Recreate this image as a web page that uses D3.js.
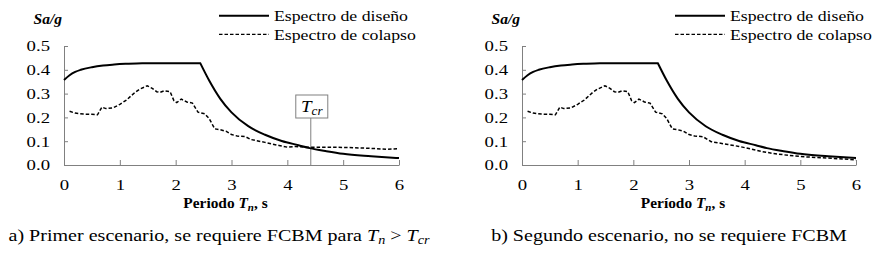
<!DOCTYPE html>
<html>
<head>
<meta charset="utf-8">
<script src="https://cdn.jsdelivr.net/npm/d3@7"></script>
<style>
  body { margin: 0; background: #fff; }
  text { font-family: "Liberation Serif", "Times New Roman", serif; fill: #000; }
</style>
</head>
<body>
<div id="graph"></div>
<script>
// design spectrum, same in both panels
var riseT  = [0, 0.1, 0.2, 0.3, 0.5, 0.7, 0.9, 1.1, 1.4, 2.44]
var riseSa = [0.357, 0.377, 0.391, 0.400, 0.411, 0.418, 0.422, 0.425, 0.428, 0.428]
var decayT  = [2.44, 2.6, 2.8, 3.0, 3.3, 3.6, 3.9, 4.2, 4.4, 4.7, 5.0, 5.5, 6.0]
var decaySa = [0.428, 0.355, 0.278, 0.221, 0.163, 0.127, 0.101, 0.083, 0.071, 0.058, 0.047, 0.037, 0.029]

// collapse spectrum, panel a
var colAT  = [0.1, 0.2, 0.35, 0.5, 0.6, 0.68, 0.75, 0.88, 1.0, 1.12, 1.27, 1.35, 1.49, 1.58, 1.66, 1.72, 1.8, 1.9, 1.97, 2.02, 2.1, 2.2, 2.3, 2.4, 2.52, 2.6, 2.7, 2.8, 2.9, 3.0, 3.1, 3.25, 3.35, 3.6, 3.85, 4.0, 4.15, 4.3, 4.6, 5.0, 5.4, 5.8, 6.0]
var colASa = [0.226, 0.218, 0.214, 0.213, 0.211, 0.243, 0.237, 0.240, 0.255, 0.273, 0.305, 0.318, 0.333, 0.322, 0.308, 0.305, 0.312, 0.308, 0.270, 0.262, 0.277, 0.265, 0.260, 0.222, 0.215, 0.195, 0.152, 0.148, 0.142, 0.128, 0.122, 0.119, 0.107, 0.095, 0.082, 0.075, 0.078, 0.075, 0.075, 0.074, 0.071, 0.066, 0.069]

// collapse spectrum, panel b
var colBT  = [0.1, 0.2, 0.35, 0.5, 0.6, 0.68, 0.75, 0.88, 1.0, 1.12, 1.27, 1.35, 1.49, 1.58, 1.66, 1.72, 1.8, 1.9, 1.97, 2.02, 2.1, 2.2, 2.3, 2.4, 2.52, 2.6, 2.7, 2.8, 2.9, 3.0, 3.1, 3.25, 3.4, 3.7, 3.9, 4.1, 4.3, 4.5, 4.8, 5.1, 5.5, 6.0]
var colBSa = [0.226, 0.218, 0.214, 0.213, 0.211, 0.243, 0.237, 0.240, 0.255, 0.273, 0.305, 0.318, 0.333, 0.322, 0.308, 0.305, 0.312, 0.308, 0.270, 0.262, 0.277, 0.265, 0.260, 0.222, 0.215, 0.195, 0.152, 0.148, 0.142, 0.128, 0.122, 0.119, 0.098, 0.086, 0.078, 0.068, 0.057, 0.049, 0.040, 0.034, 0.029, 0.022]

var xTicks = [0, 1, 2, 3, 4, 5, 6]
var yTicks = [0, 0.1, 0.2, 0.3, 0.4, 0.5]
var legendNames = ['Espectro de diseño', 'Espectro de colapso']
var Tcr = 4.42

var panels = [
  {x0: 64, x1: 399, title: 'Periodo ', colT: colAT, colSa: colASa, tcr: true,
   cap: ['a) Primer escenario, se requiere FCBM para ', true], capX: 219, legX: 219},
  {x0: 522, x1: 856, title: 'Período ', colT: colBT, colSa: colBSa, tcr: false,
   cap: ['b) Segundo escenario, no se requiere FCBM', false], capX: 669, legX: 675}
]

var width = 879, height = 262
var gray = '#808080'

var svg = d3.select('#graph').append('svg')
  .attr('width', width).attr('height', height)

var y = d3.scaleLinear().domain([0, 0.5]).range([165, 46])

// the source figure's text is stretched horizontally, hence the scale
function label(g, x, yy, size, sx, anchor){
  return g.append('text')
    .attr('transform', `translate(${x},${yy}) scale(${sx},1)`)
    .attr('text-anchor', anchor || 'start')
    .style('font-size', size + 'px')
}

function sub(t, s, size, italic, bold){
  var ts = t.append('tspan').text(s).attr('dy', 3).style('font-size', size + 'px')
  if (italic) ts.style('font-style', 'italic')
  if (bold) ts.style('font-weight', 'bold')
  return ts
}

var tickSx = 1.25

panels.forEach(p => {
  var x = d3.scaleLinear().domain([0, 6]).range([p.x0, p.x1])
  var g = svg.append('g')

  // axes
  var ax = g.append('g').attr('transform', `translate(0,${y(0)})`)
    .call(d3.axisBottom(x).tickValues(xTicks).tickFormat(d3.format('d'))
      .tickSizeInner(-5).tickSizeOuter(0).tickPadding(14))
  var ay = g.append('g').attr('transform', `translate(${p.x0},0)`)
    .call(d3.axisLeft(y).tickValues(yTicks).tickFormat(d3.format('.1f'))
      .tickSizeInner(-4).tickSizeOuter(0).tickPadding(14 / tickSx))
  ;[ax, ay].forEach(a => {
    a.select('.domain').attr('stroke', gray)
    a.selectAll('.tick line').attr('stroke', gray)
    a.selectAll('.tick text')
      .attr('transform', `scale(${tickSx},1)`)
      .style('font-family', '"Liberation Serif", serif')
      .style('font-size', '15px')
      .attr('fill', '#000')
  })

  // Tcr marker
  if (p.tcr){
    var tx = x(Tcr)
    g.append('line')
      .attr('x1', tx).attr('x2', tx).attr('y1', y(0)).attr('y2', 118)
      .attr('stroke', gray).attr('stroke-width', 1)
    g.append('rect')
      .attr('x', tx - 15).attr('y', 95).attr('width', 32).attr('height', 23)
      .attr('fill', '#fff').attr('stroke', gray).attr('stroke-width', 1)
    var t = label(g, tx + 1, 112, 16.5, 1.15, 'middle')
    t.append('tspan').text('T').style('font-style', 'italic')
    sub(t, 'cr', 11.5, true)
  }

  // design spectrum: smooth rise + plateau, then decay (sharp corner at 2.44)
  var line = d3.line().x(d => x(d[0])).y(d => y(d[1])).curve(d3.curveMonotoneX)
  var rise = d3.zip(riseT, riseSa)
  var decay = d3.zip(decayT, decaySa)
  g.append('path')
    .attr('d', line(rise) + line(decay).replace(/^M/, 'L'))
    .attr('fill', 'none').attr('stroke', '#000').attr('stroke-width', 2)

  var lin = d3.line().x(d => x(d[0])).y(d => y(d[1]))
  g.append('path')
    .attr('d', lin(d3.zip(p.colT, p.colSa)))
    .attr('fill', 'none').attr('stroke', '#000').attr('stroke-width', 1.5)
    .attr('stroke-dasharray', '3.5,2')

  // y title
  label(g, p.x0 - 2, 23.5, 15.5, 1.0, 'end')
    .style('font-weight', 'bold').style('font-style', 'italic').text('Sa/g')

  // legend
  legendNames.forEach((name, i) => {
    var ly = 15.7 + i*18.6
    g.append('line')
      .attr('x1', p.legX).attr('x2', p.legX + 50).attr('y1', ly).attr('y2', ly)
      .attr('stroke', '#000').attr('stroke-width', i ? 1.3 : 2)
      .attr('stroke-dasharray', i ? '3.5,2' : null)
    label(g, p.legX + 55, ly + 5.2, 14.8, 1.2).text(name)
  })

  // x title
  var xt = label(g, (p.x0 + p.x1)/2 - 6, 208, 14, 1.1, 'middle').style('font-weight', 'bold')
  xt.append('tspan').text(p.title)
  xt.append('tspan').text('T').style('font-style', 'italic')
  sub(xt, 'n', 10, true, true)
  xt.append('tspan').text(', s').attr('dy', -3)

  // caption
  var cp = label(g, p.capX, 241, 16.3, 1.23, 'middle')
  cp.append('tspan').text(p.cap[0])
  if (p.cap[1]){
    cp.append('tspan').text('T').style('font-style', 'italic')
    sub(cp, 'n', 11.5, true)
    cp.append('tspan').text(' > ').attr('dy', -3)
    cp.append('tspan').text('T').style('font-style', 'italic')
    sub(cp, 'cr', 11.5, true)
  }
})
</script>
</body>
</html>
